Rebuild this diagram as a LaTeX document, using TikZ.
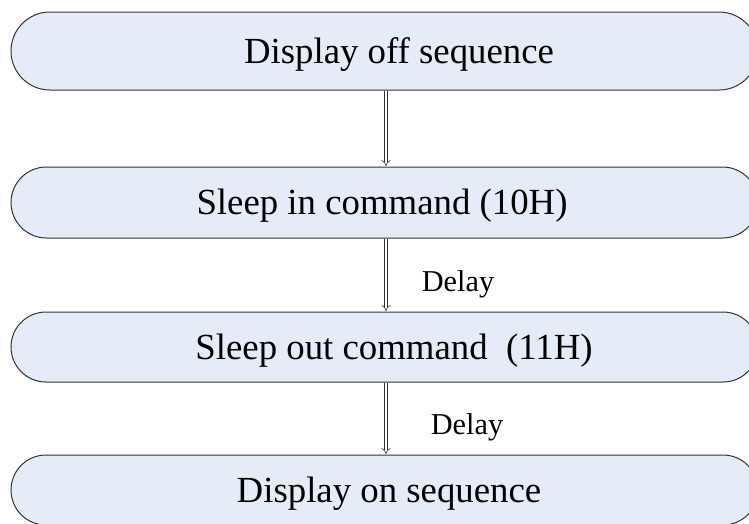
\documentclass[tikz,border=0pt]{standalone}
\usepackage{fontspec}
\setmainfont{Liberation Serif}
\usetikzlibrary{arrows.meta}
\definecolor{boxfill}{HTML}{E6ECF7}
\definecolor{boxline}{HTML}{333333}
\tikzset{
  stage/.style={draw=boxline, line width=1pt, fill=boxfill, minimum width=747pt,
                inner sep=0pt, rounded corners=#1},
  stagetext/.style={font=\fontsize{36.8}{40}\selectfont, inner sep=0pt, anchor=base},
  delaytext/.style={font=\fontsize{30.3}{34}\selectfont, inner sep=0pt, anchor=base},
  flow/.style={draw=boxline, line width=0.6pt, double=white, double distance=2.6pt,
               -{Implies[scale=1.5]}, shorten >=0.5pt}
}
\begin{document}
\begin{tikzpicture}[x=1pt,y=-1pt]
\useasboundingbox (0,0) rectangle (749,523);
\clip (0,0) rectangle (749,523);

% process stages
\node[stage=39pt, minimum height=78pt] (b1) at (384.5,51) {};
\node[stage=35.5pt, minimum height=71pt] (b2) at (384.5,202.5) {};
\node[stage=35pt, minimum height=70pt] (b3) at (384.5,347) {};
\node[stage=35pt, minimum height=70pt] (b4) at (384.5,490) {};

\node[stagetext] (t1) at (399,63) {Display off sequence};
\node[stagetext] (t2) at (382,214.5) {Sleep in command (10H)};
\node[stagetext] (t3) at (394,359) {Sleep out command\ \ (11H)};
\node[stagetext] (t4) at (389,502) {Display on sequence};

% transitions
\draw[flow] ([xshift=1.5pt]b1.south) -- ([xshift=1.5pt]b2.north);
\draw[flow] ([xshift=1.5pt]b2.south) -- ([xshift=1.5pt]b3.north);
\draw[flow] ([xshift=1.5pt]b3.south) -- ([xshift=1.5pt]b4.north);

\node[delaytext] (d1) at (458,291.5) {Delay};
\node[delaytext] (d2) at (467,434.5) {Delay};
\end{tikzpicture}
\end{document}
